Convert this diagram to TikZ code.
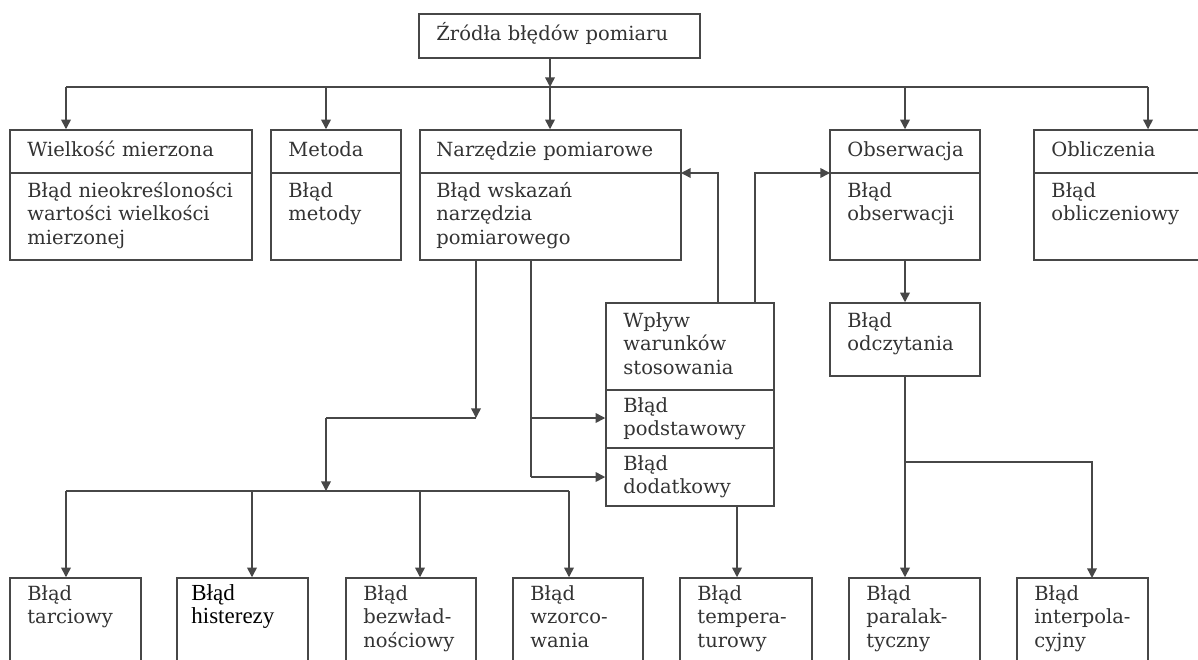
\documentclass[tikz,border=0pt]{standalone}
\usepackage{fontspec}
\setmainfont{DejaVu Serif}
\newfontfamily\hfont{Liberation Serif}
\usetikzlibrary{arrows.meta,fit}
\begin{document}
\begin{tikzpicture}[x=0.5pt,y=-0.5pt,
  ln/.style={draw=black!72, line width=0.75pt},
  arr/.style={ln, -{Triangle[length=4.8pt,width=4.8pt]}},
  box/.style={draw=black!72, line width=0.75pt, inner sep=0pt},
  txt/.style={anchor=base west, inner sep=0pt, text width=160pt, align=left, text=black!80, font=\fontsize{9.75}{11.75}\selectfont}]
\useasboundingbox (0,0) rectangle (1198,659);
\fill[white] (0,0) rectangle (1198,659);
\clip (0,0) rectangle (1198,659);

% top
\node[box, fit={(419,14) (700,58)}] (T) {};
\node[txt] (Tt) at (436,40) {Źródła błędów pomiaru};

% row 1
\node[box, fit={(10,130) (252,260)}] (A) {};
\node[box, fit={(271,130) (401,260)}] (B) {};
\node[box, fit={(420,130) (681,260)}] (C) {};
\node[box, fit={(830,130) (980,260)}] (D) {};
\node[box, fit={(1034,130) (1215,260)}] (E) {};
\foreach \l/\r in {10/252,271/401,420/681,830/980,1034/1215}
  \draw[ln] (\l,173) -- (\r,173);

\node[txt] (Ah) at (27,156) {Wielkość mierzona};
\node[txt] (Ab) at (27,197) {Błąd nieokreśloności\\wartości wielkości\\mierzonej};
\node[txt] (Bh) at (288,156) {Metoda};
\node[txt] (Bb) at (288,197) {Błąd\\metody};
\node[txt] (Ch) at (436,156) {Narzędzie pomiarowe};
\node[txt] (Cb) at (436,197) {Błąd wskazań\\narzędzia\\pomiarowego};
\node[txt] (Dh) at (847,156) {Obserwacja};
\node[txt] (Db) at (847,197) {Błąd\\obserwacji};
\node[txt] (Eh) at (1051,156) {Obliczenia};
\node[txt] (Eb) at (1051,197) {Błąd\\obliczeniowy};

% influence box
\node[box, fit={(606,303) (774,506)}] (W) {};
\draw[ln] (606,390) -- (774,390);
\draw[ln] (606,448) -- (774,448);
\node[txt] (Wt1) at (623,327) {Wpływ\\warunków\\stosowania};
\node[txt] (Wt2) at (623,412) {Błąd\\podstawowy};
\node[txt] (Wt3) at (623,470) {Błąd\\dodatkowy};

% reading error box
\node[box, fit={(830,303) (980,376)}] (R) {};
\node[txt] (Rt) at (847,327) {Błąd\\odczytania};

% bottom row
\node[box, fit={(10,578) (141,690)}] (P1) {};
\node[box, fit={(177,578) (308,690)}] (P2) {};
\node[box, fit={(346,578) (476,690)}] (P3) {};
\node[box, fit={(513,578) (643,690)}] (P4) {};
\node[box, fit={(680,578) (812,690)}] (P5) {};
\node[box, fit={(849,578) (980,690)}] (P6) {};
\node[box, fit={(1017,578) (1148,690)}] (P7) {};
\node[txt] (P1t) at (27,600) {Błąd\\tarciowy};
\node[txt, text=black, font=\hfont\fontsize{11.5}{11.5}\selectfont] (P2t) at (191,600) {Błąd\\histerezy};
\node[txt] (P3t) at (363,600) {Błąd\\bezwład-\\nościowy};
\node[txt] (P4t) at (530,600) {Błąd\\wzorco-\\wania};
\node[txt] (P5t) at (697,600) {Błąd\\tempera-\\turowy};
\node[txt] (P6t) at (866,600) {Błąd\\paralak-\\tyczny};
\node[txt] (P7t) at (1034,600) {Błąd\\interpola-\\cyjny};

% top connectors
\coordinate (b1L) at (66,87);
\coordinate (b1B) at (326,87);
\coordinate (b1M) at (550,87);
\coordinate (b1D) at (905,87);
\coordinate (b1R) at (1148,87);
\draw[arr] (T.south -| b1M) -- (b1M);
\draw[ln] (b1L) -- (b1R);
\draw[arr] (b1L) -- (b1L |- A.north);
\draw[arr] (b1B) -- (b1B |- B.north);
\draw[arr] (b1M) -- (b1M |- C.north);
\draw[arr] (b1D) -- (b1D |- D.north);
\draw[arr] (b1R) -- (b1R |- E.north);

% feedback from W
\coordinate (w1) at (718,303);
\coordinate (w2) at (755,303);
\coordinate (cIn) at (681,173);
\coordinate (dIn) at (830,173);
\draw[arr] (w1) |- (cIn);
\draw[arr] (w2) |- (dIn);

% from C down
\coordinate (c1) at (476,260);
\coordinate (k1) at (476,418);
\coordinate (k2) at (326,418);
\coordinate (b2M) at (326,491);
\coordinate (b2L) at (66,491);
\coordinate (b2a) at (252,491);
\coordinate (b2b) at (420,491);
\coordinate (b2R) at (569,491);
\draw[arr] (c1) -- (k1);
\draw[ln] (k1) -- (k2);
\draw[arr] (k2) -- (b2M);
\draw[ln] (b2L) -- (b2R);
\draw[arr] (b2L) -- (b2L |- P1.north);
\draw[arr] (b2a) -- (b2a |- P2.north);
\draw[arr] (b2b) -- (b2b |- P3.north);
\draw[arr] (b2R) -- (b2R |- P4.north);

\coordinate (c2) at (531,260);
\coordinate (c2a) at (531,418);
\coordinate (c2b) at (531,477);
\draw[ln] (c2) -- (c2b);
\draw[arr] (c2a) -- (c2a -| W.west);
\draw[arr] (c2b) -- (c2b -| W.west);

% W to temperature
\coordinate (w3) at (737,506);
\draw[arr] (w3) -- (w3 |- P5.north);

% observation chain
\coordinate (d1) at (905,260);
\draw[arr] (d1) -- (d1 |- R.north);
\coordinate (r1) at (905,376);
\coordinate (r2) at (905,462);
\coordinate (r3) at (1092,578);
\draw[arr] (r1) -- (r1 |- P6.north);
\draw[arr] (r2) -| (r3);
\end{tikzpicture}
\end{document}
